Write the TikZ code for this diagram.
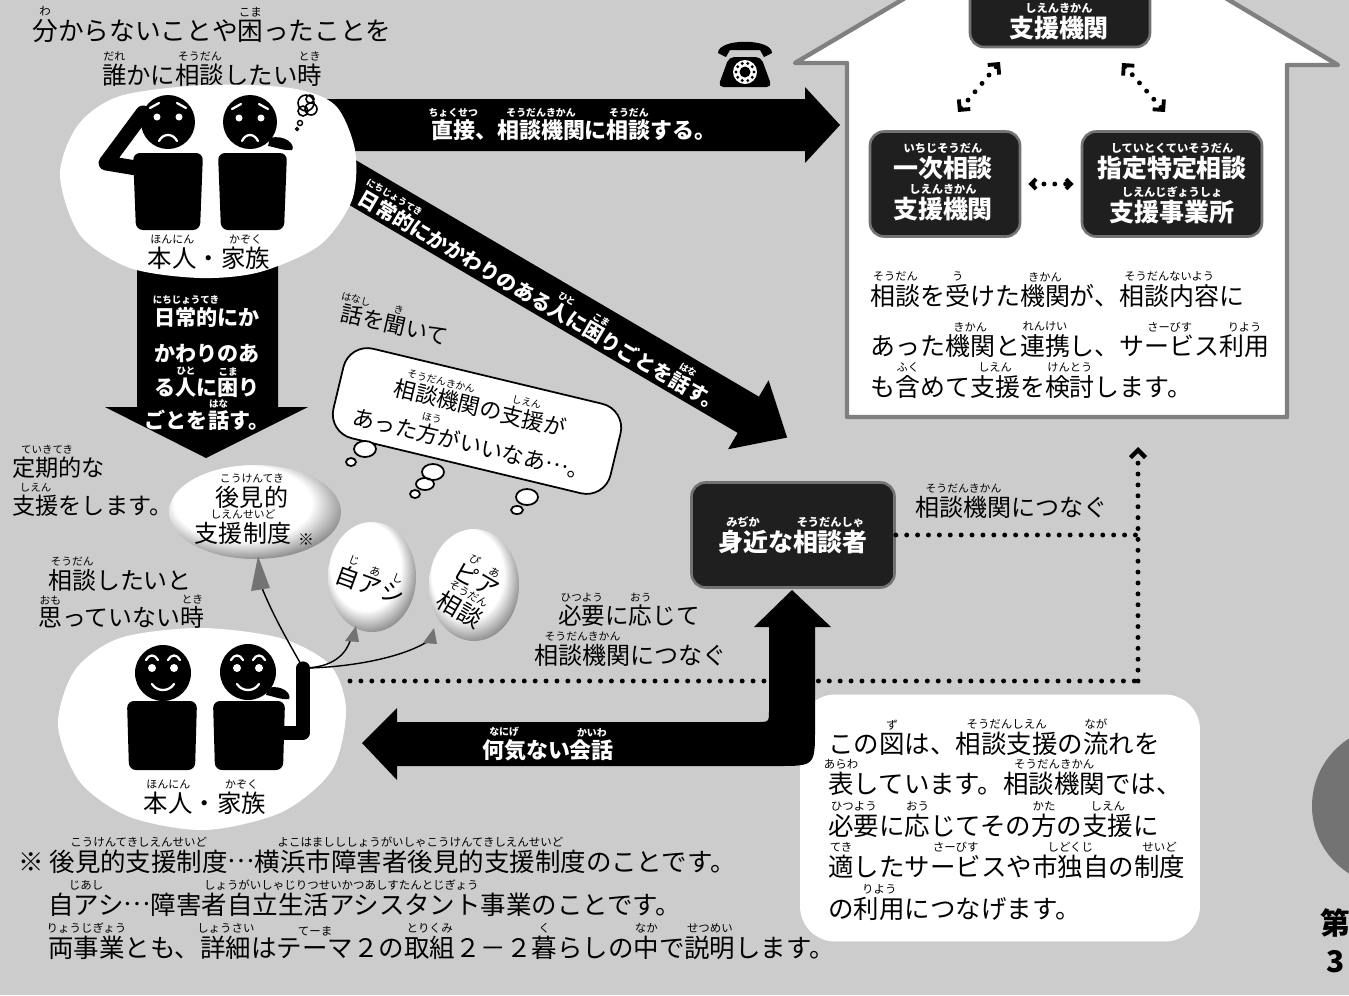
\documentclass[tikz,border=0pt]{standalone}
\usepackage{fontspec}
\setmainfont{Noto Sans CJK JP}
\usetikzlibrary{arrows.meta}

\newcommand\fsz[1]{\fontsize{#1}{#1}\selectfont}
\newcommand\mdots{\raisebox{.32em}{…}}
\makeatletter
% furigana: #2 small and centred over #1
\newcommand\rb[2]{\leavevmode\begingroup
  \setbox0\hbox{#1}%
  \@tempdima=\f@size pt\@tempdima=.45\@tempdima
  \edef\rb@sz{\strip@pt\@tempdima}%
  \setbox2\hbox to\wd0{\hss\fontsize{\rb@sz}{\rb@sz}\selectfont#2\hss}%
  \vbox{\offinterlineskip\box2\kern.1em\box0}\endgroup}
\makeatother

\colorlet{paper}{black!20}
% white balloon, darker towards the lower right rim (rim sits at 25bp)
\pgfdeclareradialshading{balloon}{\pgfpoint{-6bp}{8bp}}{color(0bp)=(white); color(20bp)=(white); color(26bp)=(black!30); color(33bp)=(black!65); color(50bp)=(black!65)}

\begin{document}
\begin{tikzpicture}[x=0.02cm, y=-0.02cm,
    txt/.style={inner sep=0pt, font=\fsz{#1}}, txt/.default=13.7,
    btxt/.style={inner sep=0pt, font=\fsz{#1}\bfseries},
    wtxt/.style={inner sep=0pt, text=white, font=\fsz{#1}\bfseries}, wtxt/.default=12.5,
    darkbox/.style={fill=black!88, draw=black!55, line width=1.5pt, rounded corners=8pt},
    dotline/.style={line width=2.8pt, line cap=round, dash pattern=on 0pt off 6.2pt},
    link/.style={dotline, {Straight Barb[angle=90:#1, line width=2.2pt]}-{Straight Barb[angle=90:#1, line width=2.2pt]}},
    face/.style={white, line width=1.3pt, line cap=round},
    bubble/.style={draw, fill=white, line width=1pt},
    knot/.style={fill=black!55}]

\useasboundingbox (0,0) rectangle (1349,995);
\fill[paper] (0,0) rectangle (1349,995);

% question at the top
\node[txt=14.6, anchor=base] (q1) at (212,40) {\rb{分}{わ}からないことや\rb{困}{こま}ったことを};
\node[txt=13.9, anchor=base] (q2) at (212,84) {\rb{誰}{だれ}かに\rb{相談}{そうだん}したい\rb{時}{とき}};

% arrow straight to the agencies
\fill (290,99) -- (805,99) -- (805,87) -- (840,125) -- (805,163) -- (805,151) -- (290,151) -- cycle;
\node[wtxt, anchor=base] (direct) at (574,138) {\rb{直接}{ちょくせつ}、\rb{相談機関}{そうだんきかん}に\rb{相談}{そうだん}する。};

% arrow to someone close by
\begin{scope}[shift={(280,140)}, rotate=-30.4]
  \fill (0,-21) -- (543,-21) -- (543,-40) -- (588,0) -- (543,40) -- (543,21) -- (0,21) -- cycle;
  \node[wtxt=11.4, rotate=-30.4] (daily) at (307,2) {\rb{日常的}{にちじょうてき}にかかわりのある\rb{人}{ひと}に\rb{困}{こま}りごとを\rb{話}{はな}す。};
\end{scope}

% arrow down to the guardianship scheme
\fill (137,250) -- (137,407) -- (105,407) -- (206,458) -- (308,407) -- (278,407) -- (278,250) -- cycle;
\node[wtxt=12, anchor=base] (down1) at (207,325) {\rb{日常的}{にちじょうてき}にか};
\node[wtxt=12, anchor=base] (down2) at (207,361) {かわりのあ};
\node[wtxt=12, anchor=base] (down3) at (207,395) {る\rb{人}{ひと}に\rb{困}{こま}り};
\node[wtxt=12, anchor=base] (down4) at (207,428) {ごとを\rb{話}{はな}す。};

% white ovals round the two pairs
\fill[white] plot[smooth cycle] coordinates {(60,175) (78,125) (120,96) (205,85) (290,88) (335,105) (355,150) (352,200) (320,245) (260,272) (200,278) (130,268) (80,235)};
\fill[white] plot[smooth cycle] coordinates {(58,725) (75,670) (120,638) (200,628) (280,638) (330,665) (346,710) (332,770) (282,812) (205,830) (130,817) (80,782)};

% worried pair
\fill (168,122) circle (27);
\fill[rounded corners=4pt] (133,153) -- (203,153) -- (200,230) -- (136,230) -- cycle;
\draw[line width=8.5pt, line cap=round, line join=round] (136,168) -- (106,163) -- (143,113);
\fill[white] (157,117) circle (3.5) (179,117) circle (3.5);
\draw[face] (150,108) -- (159,103) (177,103) -- (186,108);
\draw[face] (159,141) .. controls (163,133) and (173,133) .. (177,141);
\fill (250,122) circle (27);
\fill[rounded corners=4pt] (218,153) -- (287,153) -- (284,230) -- (221,230) -- cycle;
\fill (270,138) .. controls (285,134) and (296,145) .. (292,150) .. controls (284,151) and (275,147) .. (268,146) -- cycle;
\fill[white] (239,118) circle (3.5) (261,118) circle (3.5);
\draw[face] (232,109) -- (241,104) (259,104) -- (268,109);
\draw[face] (242,141) .. controls (246,133) and (254,133) .. (258,141);
\draw[line width=0.9pt] (306,103) circle (8) (311,109) circle (6) (303,111) circle (5) (310,99) circle (4);
\draw[line width=0.8pt] (300,123) circle (2.5) (297,129) circle (1.5);
\node[txt=13.9, anchor=base] (who1) at (209,267) {\rb{本人}{ほんにん}・\rb{家族}{かぞく}};

% telephone
\fill (718,53) .. controls (718,38) and (772,38) .. (772,53) -- (764,57) -- (760,50) -- (730,50) -- (726,57) -- cycle;
\fill[rounded corners=3pt] (729,57) -- (761,57) -- (772,87) -- (718,87) -- cycle;
\fill[white] (745,72) circle (12);
\fill (745,72) circle (5.5);
\foreach \a in {0,36,...,324}
  \fill (745,72) ++(\a:9) circle (1.6);

% the house of agencies
\filldraw[fill=white, draw=black!50, line width=2.5pt, line join=round] (795,63) -- (847,63) -- (847,417) -- (1287,417) -- (1287,65) -- (1338,65) -- (1066,-97) -- cycle;
\node[darkbox, minimum width=3.6cm, minimum height=1.64cm] (hub) at (1060,6) {};
\node[wtxt=14.2, anchor=base] (hubtxt) at (1059,37) {\rb{支援機関}{しえんきかん}};
\node[darkbox, minimum width=3cm, minimum height=2.1cm] (first) at (945,184) {};
\node[wtxt=14.2, anchor=base] (first1) at (943,177) {\rb{一次相談}{いちじそうだん}};
\node[wtxt=14.2, anchor=base] (first2) at (943,218) {\rb{支援機関}{しえんきかん}};
\node[darkbox, minimum width=3.6cm, minimum height=2.1cm] (spec) at (1172,184) {};
\node[wtxt=14.2, anchor=base] (spec1) at (1172,177) {\rb{指定特定相談}{していとくていそうだん}};
\node[wtxt=14.2, anchor=base] (spec2) at (1172,221) {\rb{支援事業所}{しえんじぎょうしょ}};
\coordinate (l1a) at (958,112);
\coordinate (l1b) at (1000,62);
\coordinate (l2a) at (1122,63);
\coordinate (l2b) at (1165,112);
\draw[link=6pt] (l1a) -- (l1b);
\draw[link=6pt] (l2a) -- (l2b);
\draw[link=4pt, shorten <=4pt, shorten >=4pt] (first.east) -- (spec.west);
\node[txt=14.2, anchor=base west] (h1) at (870,305) {\rb{相談}{そうだん}を\rb{受}{う}けた\rb{機関}{きかん}が、\rb{相談内容}{そうだんないよう}に};
\node[txt=14.2, anchor=base west] (h2) at (870,355) {あった\rb{機関}{きかん}と\rb{連携}{れんけい}し、\rb{サービス}{さーびす}\rb{利用}{りよう}};
\node[txt=14.2, anchor=base west] (h3) at (870,396) {も\rb{含}{ふく}めて\rb{支援}{しえん}を\rb{検討}{けんとう}します。};

% thought bubble
\node[txt=12.5, anchor=base] (listen) at (393,333) [rotate=-13] {\rb{話}{はなし}を\rb{聞}{き}いて};
\node[bubble, rotate=-13.5, minimum width=5.7cm, minimum height=1.84cm, rounded corners=14pt, align=center, font=\fsz{12.5}] (wish) at (477,421) {\rb{相談機関}{そうだんきかん}の\rb{支援}{しえん}が\\[3pt]あった\rb{方}{ほう}がいいなあ\mdots。};
\filldraw[bubble] (365,449) ellipse (11 and 8) (351,462) ellipse (5 and 4);
\filldraw[bubble] (433,472) ellipse (11 and 8) (425,484) ellipse (9 and 6) (415,494) ellipse (5 and 4);
\filldraw[bubble] (527,497) ellipse (11 and 8) (517,510) ellipse (6 and 4);

% regular support
\node[txt=13.2, anchor=base west] (reg1) at (12,476) {\rb{定期的}{ていきてき}な};
\node[txt=13.2, anchor=base west] (reg2) at (12,514) {\rb{支援}{しえん}をします。};
\node[txt=13.6, anchor=base west] (calm1) at (48,589) {\rb{相談}{そうだん}したいと};
\node[txt=13.6, anchor=base west] (calm2) at (38,626) {\rb{思}{おも}っていない\rb{時}{とき}};

% strings from the hand
\coordinate (hand) at (303,668);
\draw[line width=0.8pt] (262,588) .. controls (275,620) and (292,648) .. (hand);
\draw[line width=0.8pt] (351,638) .. controls (345,660) and (325,668) .. (hand);
\draw[line width=0.8pt] (430,640) .. controls (400,660) and (340,668) .. (hand);

% relaxed pair
\fill (163,673) circle (28);
\fill[rounded corners=4pt] (127,701) -- (197,701) -- (195,770) -- (129,770) -- cycle;
\fill[white] (152,668) circle (4) (174,668) circle (4);
\draw[face] (146,660) .. controls (149,654) and (155,654) .. (158,660);
\draw[face] (168,660) .. controls (171,654) and (177,654) .. (180,660);
\draw[face] (152,684) .. controls (157,692) and (169,692) .. (174,684);
\fill (248,672) circle (28);
\fill[rounded corners=4pt] (213,701) -- (285,701) -- (283,770) -- (215,770) -- cycle;
\fill (268,688) .. controls (282,684) and (292,694) .. (289,699) .. controls (281,700) and (273,696) .. (266,695) -- cycle;
\fill[white] (237,668) circle (4) (259,668) circle (4);
\draw[face] (231,660) .. controls (234,654) and (240,654) .. (243,660);
\draw[face] (253,660) .. controls (256,654) and (262,654) .. (265,660);
\draw[face] (237,684) .. controls (242,692) and (254,692) .. (259,684);
\draw[line width=7.5pt, line cap=round, line join=round] (283,733) -- (303,733) -- (hand);
\node[txt=13.9, anchor=base] (who2) at (205,812) {\rb{本人}{ほんにん}・\rb{家族}{かぞく}};

% balloons
\shade[shading=balloon] (255,512) ellipse (86 and 47);
\shade[shading=balloon] (372,577) ellipse (44 and 55);
\shade[shading=balloon] (474,585) ellipse (45 and 56);
\fill[knot] (258,556) -- (251,591) -- (270,588) -- cycle;
\fill[knot] (356,626) -- (345,641) -- (359,642) -- cycle;
\fill[knot] (434,628) -- (423,643) -- (437,644) -- cycle;
\node[txt=13.7, anchor=base] (kouken) at (252,506) {\rb{後見的}{こうけんてき}};
\node[txt=13.7, anchor=base] (seido) at (243,542) {\rb{支援制度}{しえんせいど}};
\node[txt=9] (kome) at (306,540) {※};
\node[txt=13.5, rotate=-20] (jiashi) at (372,580) {\rb{自}{じ}\rb{ア}{あ}\rb{シ}{し}};
\node[txt=13.5, rotate=-30, align=center] (peer) at (471,590) {\rb{ピ}{ぴ}\rb{ア}{あ}\\\rb{相談}{そうだん}};

% note at the bottom right
\node[fill=white, rounded corners=20pt, minimum width=8cm, minimum height=4.94cm, inner sep=0pt] (note) at (1000,818) {};
\node[txt=14.5, anchor=base west] (n1) at (828,753) {この\rb{図}{ず}は、\rb{相談支援}{そうだんしえん}の\rb{流}{なが}れを};
\node[txt=14.5, anchor=base west] (n2) at (828,793) {\rb{表}{あらわ}しています。\rb{相談機関}{そうだんきかん}では、};
\node[txt=14.5, anchor=base west] (n3) at (828,835) {\rb{必要}{ひつよう}に\rb{応}{おう}じてその\rb{方}{かた}の\rb{支援}{しえん}に};
\node[txt=14.5, anchor=base west] (n4) at (828,876) {\rb{適}{てき}した\rb{サービス}{さーびす}や\rb{市独自}{しどくじ}の\rb{制度}{せいど}};
\node[txt=14.5, anchor=base west] (n5) at (828,918) {の\rb{利用}{りよう}につなげます。};

% someone close by, and the dotted routes
\node[darkbox, minimum width=4.06cm, minimum height=2.1cm, text=white, font=\fsz{14.2}\bfseries] (near) at (793,535) {\rb{身近}{みぢか}な\rb{相談者}{そうだんしゃ}};
\coordinate (turn) at (1138,535);
\coordinate (start) at (350,681);
\coordinate (bend) at (1138,681);
\coordinate (top) at (1138,447);
\draw[dotline] (near.east) -- (turn);
\draw[dotline] (start) -- (bend);
\draw[dotline, -{Straight Barb[angle=90:6pt, line width=2.5pt]}] (bend) -- (top);
\node[txt=13.7, anchor=base west] (link1) at (915,516) {\rb{相談機関}{そうだんきかん}につなぐ};
\node[txt=13.4, anchor=base west] (need1) at (558,624) {\rb{必要}{ひつよう}に\rb{応}{おう}じて};
\node[txt=13.7, anchor=base west] (need2) at (534,664) {\rb{相談機関}{そうだんきかん}につなぐ};

% casual talk arrow
\fill (362,743) -- (397,708) -- (397,722) -- (757,722) .. controls (769,722) .. (769,710) -- (769,627) -- (754,627) -- (792,590) -- (831,627) -- (815,627) -- (815,728) .. controls (815,766) .. (777,766) -- (397,766) -- (397,780) -- cycle;
\node[wtxt, anchor=base] (chat) at (548,758) {\rb{何気}{なにげ}ない\rb{会話}{かいわ}};

% page edge
\fill[black!55] (1392,806) circle (80);
\node[btxt=17, anchor=base west] (ch1) at (1320,934) {第};
\node[btxt=17, anchor=base west] (ch2) at (1326,972) {3};

% footnotes
\node[txt=14.5, anchor=base west] (fn1) at (18,871) {※ \rb{後見的支援制度}{こうけんてきしえんせいど}\mdots\rb{横浜市障害者後見的支援制度}{よこはましししょうがいしゃこうけんてきしえんせいど}のことです。};
\node[txt=14.5, anchor=base west] (fn2) at (48,914) {\rb{自アシ}{じあし}\mdots\rb{障害者自立生活アシスタント事業}{しょうがいしゃじりつせいかつあしすたんとじぎょう}のことです。};
\node[txt=14.5, anchor=base west] (fn3) at (48,957) {\rb{両事業}{りょうじぎょう}とも、\rb{詳細}{しょうさい}は\rb{テーマ}{てーま}２の\rb{取組}{とりくみ}２－２\rb{暮}{く}らしの\rb{中}{なか}で\rb{説明}{せつめい}します。};
\end{tikzpicture}
\end{document}
